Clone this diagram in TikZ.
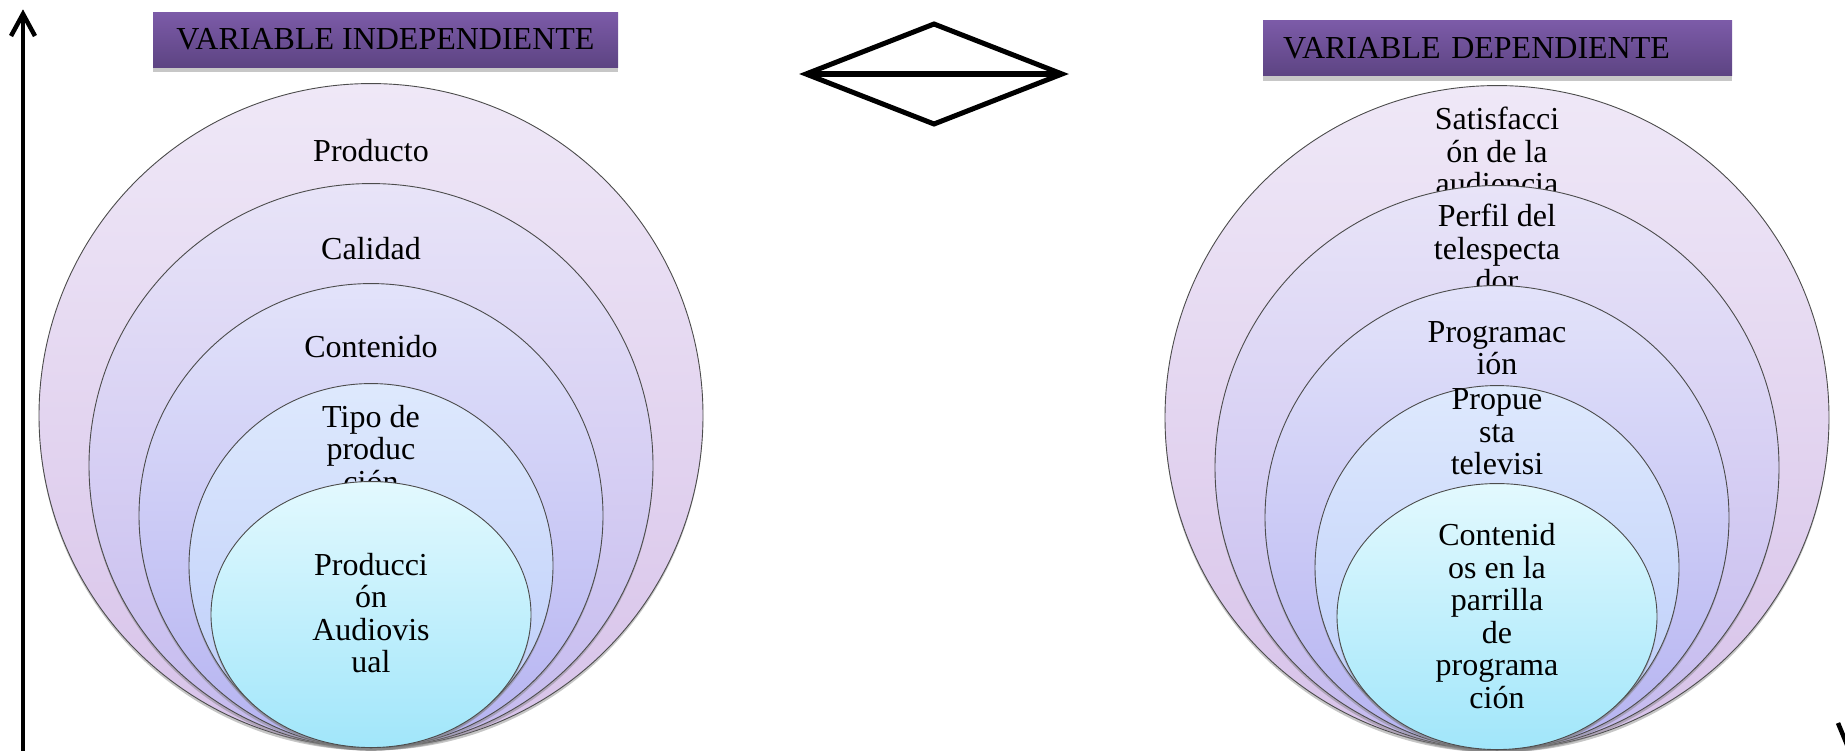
\documentclass[tikz,border=0pt]{standalone}
\usepackage{fontspec}
\setmainfont{Liberation Serif}
\usepackage{tikz}
\usetikzlibrary{positioning,arrows.meta,shapes.geometric,shadows}
\definecolor{hdrtop}{HTML}{7C5BA8}
\definecolor{hdrbot}{HTML}{5D4483}
\definecolor{ringAt}{HTML}{EFE8F7}
\definecolor{ringAb}{HTML}{D7C2E9}
\definecolor{ringBt}{HTML}{E8E4F8}
\definecolor{ringBb}{HTML}{C4B9EE}
\definecolor{ringCt}{HTML}{E3E3FA}
\definecolor{ringCb}{HTML}{B5B3F1}
\definecolor{ringDt}{HTML}{DEE9FD}
\definecolor{ringDb}{HTML}{BACBF9}
\definecolor{ringEt}{HTML}{E3F9FE}
\definecolor{ringEb}{HTML}{A1E6FA}

\begin{document}
\begin{tikzpicture}[x=1pt,y=-1pt,
  ring/.style={circle,draw=black!70,line width=0.9pt,inner sep=0pt,
    drop shadow={opacity=0.45,shadow xshift=0pt,shadow yshift=-3pt}},
  lbl/.style={align=center,inner sep=0pt,font=\fontsize{32}{32.5}\selectfont},
  header/.style={rectangle,inner ysep=0pt,minimum height=55pt,top color=hdrtop,bottom color=hdrbot,
    font=\fontsize{32}{32.5}\selectfont,
    drop shadow={fill=black!22,opacity=1,shadow xshift=0pt,shadow yshift=-5pt}}]
  \clip (0,0) rectangle (1845,750);

  % axis
  \coordinate (ybase) at (23,752);
  \coordinate (ytip) at (23,14);
  \coordinate (ybarbl) at (11,36);
  \coordinate (ybarbr) at (35,36);
  \draw[line width=4.5pt] (ybase) -- (ytip);
  \draw[line width=4.5pt,line join=miter] (ybarbl) -- (ytip) -- (ybarbr);
  \coordinate (xbarb) at (1838,723);
  \coordinate (xend) at (1850,752);
  \draw[line width=4.5pt] (xbarb) -- (xend);

  % headers
  \node[header,minimum width=465pt] (indep) at (385.5,39.5) {VARIABLE INDEPENDIENTE};
  \node[header,text width=429pt,inner xsep=20pt,align=left] (dep) at (1497.5,48) {VARIABLE DEPENDIENTE};

  % relation symbol
  \coordinate (dl) at (806,74);
  \coordinate (dt) at (934,24);
  \coordinate (dr) at (1062,74);
  \coordinate (db) at (934,124);
  \draw[line width=5pt,miter limit=10] (dl) -- (dt) -- (dr) -- (db) -- cycle;
  \draw[line width=6pt] (dl) -- (dr);

  % independent variable
  \foreach \d/\tc/\bc/\ty/\lab [count=\i] in {664pt/ringAt/ringAb/151/{Producto},
      564pt/ringBt/ringBb/249/{Calidad},
      464pt/ringCt/ringCb/347/{Contenido},
      364pt/ringDt/ringDb/449/{Tipo de\\produc\\ción}}{
    \node[ring,minimum size=\d,top color=\tc,bottom color=\bc] (L\i) at (371,748) [anchor=south] {};
    \node[lbl] (Lt\i) at (371,\ty) {\lab};
  }
  \node[ring,ellipse,minimum width=320pt,minimum height=266pt,top color=ringEt,bottom color=ringEb,anchor=south] (L5) at (371,748) {};
  \node[lbl] (Lt5) at (371,613) {Producci\\ón\\Audiovis\\ual};

  % dependent variable
  \foreach \d/\tc/\bc/\ty/\lab [count=\i] in {664pt/ringAt/ringAb/151/{Satisfacci\\ón de la\\audiencia},
      564pt/ringBt/ringBb/248/{Perfil del\\telespecta\\dor},
      464pt/ringCt/ringCb/348/{Programac\\ión},
      364pt/ringDt/ringDb/432/{Propue\\sta\\televisi}}{
    \node[ring,minimum size=\d,top color=\tc,bottom color=\bc] (R\i) at (1497,750) [anchor=south] {};
    \node[lbl] (Rt\i) at (1497,\ty) {\lab};
  }
  \node[ring,ellipse,minimum width=320pt,minimum height=266pt,top color=ringEt,bottom color=ringEb,anchor=south] (R5) at (1497,750) {};
  \node[lbl] (Rt5) at (1497,616) {Contenid\\os en la\\parrilla\\de\\programa\\ción};
\end{tikzpicture}
\end{document}
